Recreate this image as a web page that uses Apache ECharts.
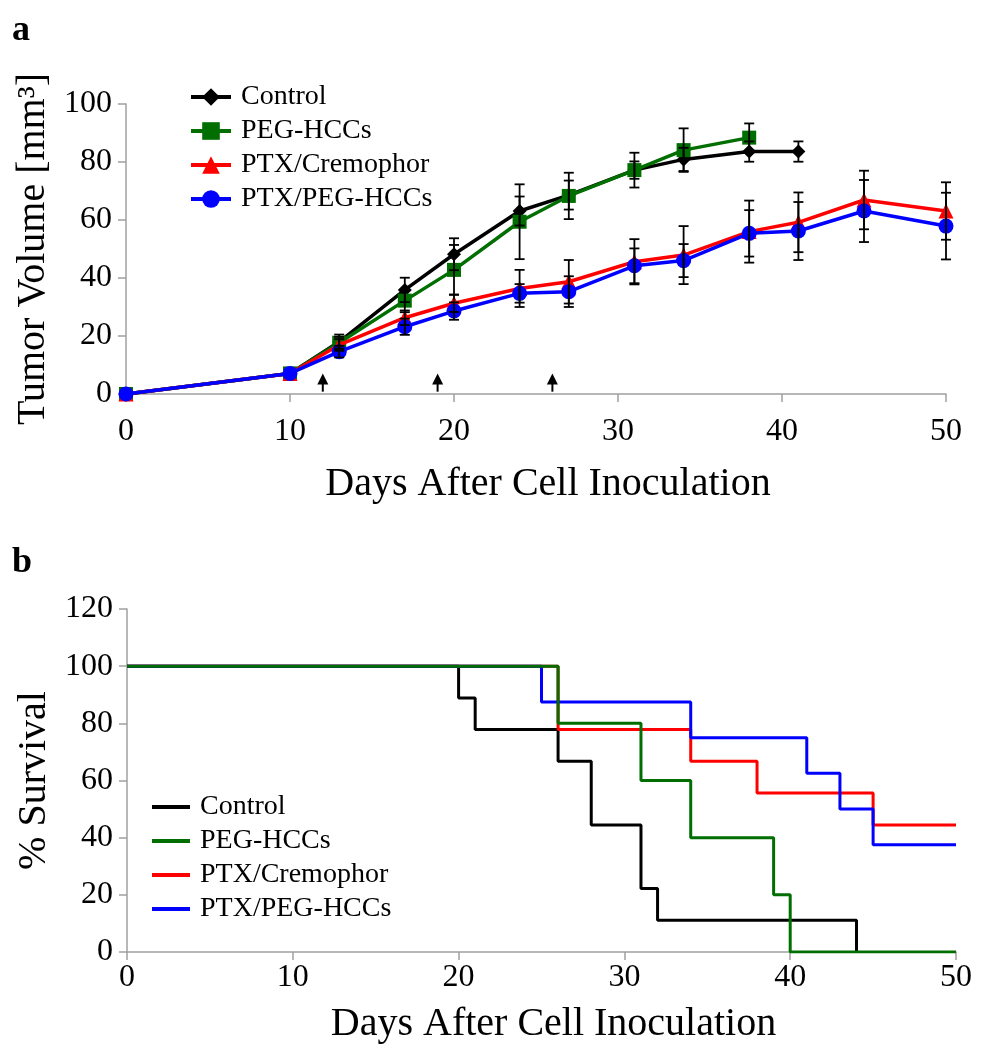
<!DOCTYPE html>
<html>
<head>
<meta charset="utf-8">
<script src="https://cdn.jsdelivr.net/npm/echarts@6/dist/echarts.min.js"></script>
<style>
  html, body { margin: 0; padding: 0; background: #fff; }
  #chart { width: 987px; height: 1050px; }
</style>
</head>
<body>
<div id="chart"></div>
<script>
// ---------- Data: panel a (tumor volume) ----------
const seriesNames = ['Control', 'PEG-HCCs', 'PTX/Cremophor', 'PTX/PEG-HCCs'];
const tumorDays = [0, 10, 13, 17, 20, 24, 27, 31, 34, 38, 41, 45, 50];
const controlVol = [0, 7.1, 18.0, 35.9, 48.2, 63.1, 68.6, 77.2, 80.9, 83.6, 83.6, null, null];
const pegVol     = [0, 7.1, 17.7, 32.2, 42.8, 59.4, 68.3, 77.2, 84.1, 88.4, null, null, null];
const ptxCremVol = [0, 7.1, 16.9, 26.3, 31.3, 36.4, 38.7, 45.6, 47.9, 56.0, 59.2, 66.9, 63.1];
const ptxPegVol  = [0, 7.1, 14.6, 23.2, 28.6, 34.7, 35.3, 44.2, 46.0, 55.4, 56.2, 63.1, 57.9];
const controlErr = [0, 0, 2.5, 4.2, 5.5, 5.0, 5.0, 3.0, 4.0, 3.5, 3.5, null, null];
const pegErr     = [0, 0, 2.0, 4.0, 8.6, 12.9, 8.0, 6.0, 7.5, 4.9, null, null, null];
const ptxCremErr = [0, 0, 2.0, 2.5, 3.0, 6.4, 7.5, 7.8, 10.0, 10.7, 10.3, 10.1, 9.9];
const ptxPegErr  = [0, 0, 2.0, 2.8, 3.0, 3.2, 5.3, 6.0, 5.7, 8.0, 10.0, 10.7, 11.5];
const treatmentDays = [12, 19, 26];

// ---------- Data: panel b (survival, step points: [day, % survival]) ----------
const controlSurv = [[0, 100], [20, 88.9], [21, 77.8], [26, 66.7], [28, 44.4], [31, 22.2], [32, 11.1], [44, 0]];
const pegSurv     = [[0, 100], [26, 80], [31, 60], [34, 40], [39, 20], [40, 0], [50, 0]];
const ptxCremSurv = [[0, 100], [26, 77.8], [34, 66.7], [38, 55.6], [45, 44.4], [50, 44.4]];
const ptxPegSurv  = [[0, 100], [25, 87.5], [34, 75], [41, 62.5], [43, 50], [45, 37.5], [50, 37.5]];

const colors = ['#000000', '#006e00', '#ff0000', '#0000ff'];
const symbols = ['diamond', 'rect', 'triangle', 'circle'];
const symbolSizes = [14, 14, 15, 15];
const FONT = 'Liberation Serif, Times New Roman, serif';

const volumes = [controlVol, pegVol, ptxCremVol, ptxPegVol];
const errs = [controlErr, pegErr, ptxCremErr, ptxPegErr];
const survs = [controlSurv, pegSurv, ptxCremSurv, ptxPegSurv];

function pairs(days, vals) {
  const out = [];
  days.forEach((d, i) => { if (vals[i] != null) out.push([d, vals[i]]); });
  return out;
}
function errData(days, vals, e) {
  const out = [];
  days.forEach((d, i) => {
    if (vals[i] != null && e[i]) out.push([d, vals[i] - e[i], vals[i] + e[i]]);
  });
  return out;
}

function errRender(params, api) {
  const x = api.value(0);
  const p1 = api.coord([x, api.value(1)]);
  const p2 = api.coord([x, api.value(2)]);
  const w = 5;
  const st = { stroke: '#000', lineWidth: 1.8 };
  return {
    type: 'group',
    children: [
      { type: 'line', shape: { x1: p1[0], y1: p1[1], x2: p2[0], y2: p2[1] }, style: st },
      { type: 'line', shape: { x1: p1[0] - w, y1: p1[1], x2: p1[0] + w, y2: p1[1] }, style: st },
      { type: 'line', shape: { x1: p2[0] - w, y1: p2[1], x2: p2[0] + w, y2: p2[1] }, style: st }
    ]
  };
}

function arrowRender(params, api) {
  const d = api.value(0);
  const base = api.coord([d, 0.8]);
  const tip = api.coord([d, 7.1]);
  const hw = 5.5, hh = 11;
  return {
    type: 'group',
    children: [
      { type: 'line', shape: { x1: base[0], y1: base[1], x2: tip[0], y2: tip[1] + hh - 1 },
        style: { stroke: '#000', lineWidth: 2 } },
      { type: 'polygon', shape: { points: [[tip[0] - hw, tip[1] + hh], [tip[0] + hw, tip[1] + hh], [tip[0], tip[1]]] },
        style: { fill: '#000' } }
    ]
  };
}

const axisLineStyle = { lineStyle: { color: '#a0a0a0', width: 1.5 } };
const axisTickStyle = { show: true, inside: false, length: 8, lineStyle: { color: '#a0a0a0', width: 1.5 } };
const labelStyle = { color: '#000', fontFamily: FONT, fontSize: 32 };
const nameStyle = { color: '#000', fontFamily: FONT, fontSize: 40 };

const series = [];
seriesNames.forEach((n, i) => {
  series.push({
    name: n, type: 'line', xAxisIndex: 0, yAxisIndex: 0,
    data: pairs(tumorDays, volumes[i]),
    symbol: symbols[i], symbolSize: symbolSizes[i], showSymbol: true,
    lineStyle: { color: colors[i], width: 3.5 },
    itemStyle: { color: colors[i] },
    z: 3 + i, animation: false
  });
});
seriesNames.forEach((n, i) => {
  series.push({
    type: 'custom', xAxisIndex: 0, yAxisIndex: 0,
    data: errData(tumorDays, volumes[i], errs[i]),
    encode: { x: 0, y: [1, 2] },
    renderItem: errRender, z: 10, silent: true, animation: false
  });
});
series.push({
  type: 'custom', xAxisIndex: 0, yAxisIndex: 0,
  data: treatmentDays.map(d => [d]),
  encode: { x: 0 },
  renderItem: arrowRender, z: 10, silent: true, animation: false
});
const survZ = [3, 6, 4, 5];
seriesNames.forEach((n, i) => {
  series.push({
    name: n, type: 'line', xAxisIndex: 1, yAxisIndex: 1,
    data: survs[i], step: 'end',
    symbol: 'none', showSymbol: false,
    lineStyle: { color: colors[i], width: 3 },
    itemStyle: { color: colors[i] },
    z: survZ[i], animation: false
  });
});

const option = {
  animation: false,
  backgroundColor: '#fff',
  textStyle: { fontFamily: FONT },
  graphic: [
    { type: 'text', left: 12, top: 13, style: { text: 'a', font: 'bold 36px ' + FONT, fill: '#000' } },
    { type: 'text', left: 12, top: 545, style: { text: 'b', font: 'bold 36px ' + FONT, fill: '#000' } }
  ],
  legend: [
    {
      data: seriesNames, orient: 'vertical', left: 189, top: 83,
      itemWidth: 40, itemHeight: 22, itemGap: 6, padding: 0,
      lineStyle: { width: 4 },
      textStyle: { color: '#000', fontFamily: FONT, fontSize: 28, padding: [0, 0, 0, 5] },
      selectedMode: false
    },
    {
      data: seriesNames, orient: 'vertical', left: 152, top: 793,
      icon: 'rect', itemWidth: 38, itemHeight: 4, itemGap: 6, padding: 0,
      textStyle: { color: '#000', fontFamily: FONT, fontSize: 28, padding: [0, 0, 0, 5] },
      selectedMode: false
    }
  ],
  grid: [
    { left: 126, right: 41, top: 104, height: 290, containLabel: false },
    { left: 127, right: 31, top: 609, height: 343, containLabel: false }
  ],
  xAxis: [
    {
      gridIndex: 0, type: 'value', min: 0, max: 50, interval: 10,
      axisLine: axisLineStyle, axisTick: axisTickStyle, splitLine: { show: false },
      axisLabel: Object.assign({ margin: 22 }, labelStyle),
      name: 'Days After Cell Inoculation', nameLocation: 'middle', nameGap: 70,
      nameTextStyle: Object.assign({ padding: [0, 0, 0, 24] }, nameStyle)
    },
    {
      gridIndex: 1, type: 'value', min: 0, max: 50, interval: 10,
      axisLine: axisLineStyle, axisTick: axisTickStyle, splitLine: { show: false },
      axisLabel: Object.assign({ margin: 10 }, labelStyle),
      name: 'Days After Cell Inoculation', nameLocation: 'middle', nameGap: 52,
      nameTextStyle: Object.assign({ padding: [0, 0, 0, 24] }, nameStyle)
    }
  ],
  yAxis: [
    {
      gridIndex: 0, type: 'value', min: 0, max: 100, interval: 20,
      axisLine: Object.assign({ show: true }, axisLineStyle), axisTick: axisTickStyle, splitLine: { show: false },
      axisLabel: Object.assign({ margin: 14 }, labelStyle),
      name: 'Tumor Volume [mm³]', nameLocation: 'middle', nameGap: 64, nameRotate: 90,
      nameTextStyle: nameStyle
    },
    {
      gridIndex: 1, type: 'value', min: 0, max: 120, interval: 20,
      axisLine: Object.assign({ show: true }, axisLineStyle), axisTick: axisTickStyle, splitLine: { show: false },
      axisLabel: Object.assign({ margin: 14 }, labelStyle),
      name: '% Survival', nameLocation: 'middle', nameGap: 64, nameRotate: 90,
      nameTextStyle: nameStyle
    }
  ],
  series: series
};

const chart = echarts.init(document.getElementById('chart'), null, { renderer: 'canvas' });
chart.setOption(option);
</script>
</body>
</html>
